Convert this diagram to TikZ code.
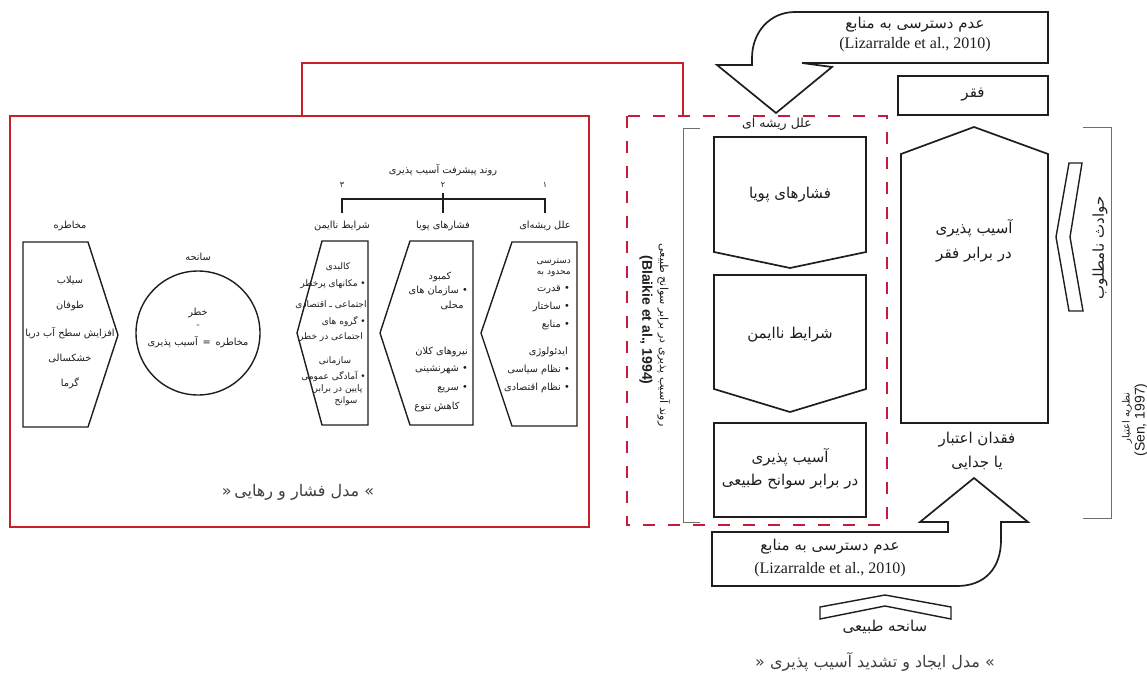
\documentclass[tikz,border=0pt]{standalone}
\usepackage{fontspec}
\setmainfont{Liberation Serif}
\newfontfamily\arabicfont[Script=Arabic]{DejaVu Sans}
\newfontfamily\latsans{Liberation Sans}
\TeXXeTstate=1
\newcommand{\fa}[1]{{\arabicfont\beginR #1\endR}}
\definecolor{redsolidc}{RGB}{200,32,40}
\definecolor{reddashc}{RGB}{196,28,62}
\definecolor{ink}{RGB}{30,30,30}
\definecolor{bracketc}{RGB}{110,110,110}
\tikzset{
 redbox/.style={draw=redsolidc, line width=2.6pt},
 redframe/.style={draw=reddashc, line width=2.6pt, dash pattern=on 12pt off 13pt},
 lshape/.style={draw=ink, line width=1.4pt, line join=miter},
 rshape/.style={draw=ink, line width=1.7pt, line join=miter},
 brk/.style={draw=bracketc, line width=1pt},
 sm/.style={font=\fontsize{9.8}{11}\selectfont, text=ink, inner sep=0pt},
 smr/.style={sm, anchor=east},
 tiny3/.style={font=\fontsize{9}{10}\selectfont, text=ink, inner sep=0pt},
 tiny3r/.style={tiny3, anchor=east},
 md/.style={font=\fontsize{15}{17}\selectfont, text=ink, inner sep=0pt},
 lat/.style={font=\fontsize{16}{18}\selectfont, text=ink, inner sep=0pt},
 ttl/.style={font=\fontsize{16}{18}\selectfont, text=ink!85, inner sep=0pt},
}
\begin{document}
\begin{tikzpicture}[x=1pt,y=-1pt]
\useasboundingbox (0,0) rectangle (1147,674);
\fill[white] (0,0) rectangle (1147,674);

% ================= left: pressure and release model =================
\draw[redbox] (10,116) rectangle (589,527);
\coordinate (redA) at (302,116);
\coordinate (redB) at (683,116);
\draw[redbox] (redA) -- (302,63) -- (683,63) -- (redB);

% hazard
\draw[lshape] (23,242) -- (88,242) -- (118,335) -- (88,427) -- (23,427) -- cycle;
\node[sm] (hzT) at (70,226) {\fa{مخاطره}};
\foreach \yy/\ww [count=\i] in {281/سیلاب,306/طوفان,333/افزایش سطح آب دریا,358/خشکسالی,383/گرما}
  \node[sm] (hz\i) at (70,\yy) {\fa{\ww}};

% disaster circle
\node[sm] (dsT) at (198,257) {\fa{سانحه}};
\node[draw=ink, line width=1.4pt, circle, minimum size=124pt, inner sep=0pt] (circ) at (198,333) {};
\node[sm] (rk1) at (198,313) {\fa{خطر}};
\node[sm, font=\fontsize{6}{6}\selectfont] (rk2) at (198,326) {=};
\node[sm] (rk3) at (198,342) {\fa{مخاطره \,=\, آسیب پذیری}};

% progression bracket
\node[sm] (prg) at (443,170) {\fa{روند پیشرفت آسیب پذیری}};
\node[sm, font=\fontsize{8}{9}\selectfont] (n3) at (342,185) {\fa{۳}};
\node[sm, font=\fontsize{8}{9}\selectfont] (n2) at (443,185) {\fa{۲}};
\node[sm, font=\fontsize{8}{9}\selectfont] (n1) at (545,185) {\fa{۱}};
\coordinate (b3) at (342,213); \coordinate (b2) at (443,213); \coordinate (b1) at (545,213);
\draw[lshape, line width=1.2pt] (b3) -- (342,199) -- (545,199) -- (b1);
\draw[lshape, line width=1.2pt] (443,193) -- (b2);
\node[sm] (lb3) at (342,226) {\fa{شرایط ناایمن}};
\node[sm] (lb2) at (443,226) {\fa{فشارهای پویا}};
\node[sm] (lb1) at (545,226) {\fa{علل ریشه‌ای}};

% shape 3 : unsafe conditions
\draw[lshape] (322,241) -- (368,241) -- (368,425) -- (322,425) -- (297,333) -- cycle;
\node[tiny3] (u1) at (338,267) {\fa{کالبدی}};
\node[tiny3r] (u2) at (366,284) {\fa{• مکانهای پرخطر}};
\node[tiny3] (u3) at (331,305) {\fa{اجتماعی ـ اقتصادی}};
\node[tiny3r] (u4) at (366,322) {\fa{• گروه های}};
\node[tiny3] (u5) at (331,337) {\fa{اجتماعی در خطر}};
\node[tiny3] (u6) at (335,361) {\fa{سازمانی}};
\node[tiny3r] (u7) at (366,376) {\fa{• آمادگی عمومی}};
\node[tiny3] (u8) at (338,389) {\fa{پایین در برابر}};
\node[tiny3] (u9) at (346,401) {\fa{سوانح}};

% shape 2 : dynamic pressures
\draw[lshape] (410,241) -- (473,241) -- (473,425) -- (410,425) -- (380,333) -- cycle;
\node[sm] (p1) at (440,277) {\fa{کمبود}};
\node[smr] (p2) at (468,291) {\fa{• سازمان های}};
\node[sm] (p3) at (452,305) {\fa{محلی}};
\node[smr] (p4) at (468,352) {\fa{نیروهای کلان}};
\node[smr] (p5) at (468,370) {\fa{• شهرنشینی}};
\node[smr] (p6) at (468,389) {\fa{• سریع}};
\node[sm] (p7) at (437,407) {\fa{کاهش تنوع}};

% shape 1 : root causes
\draw[lshape] (512,242) -- (577,242) -- (577,426) -- (512,426) -- (481,333) -- cycle;
\node[tiny3r] (c1) at (571,262) {\fa{دسترسی}};
\node[tiny3r] (c2) at (571,274) {\fa{محدود به}};
\node[smr] (c3) at (570,290) {\fa{• قدرت}};
\node[smr] (c4) at (570,307) {\fa{• ساختار}};
\node[smr] (c5) at (570,325) {\fa{• منابع}};
\node[smr] (c6) at (568,352) {\fa{ایدئولوژی}};
\node[smr] (c7) at (570,370) {\fa{• نظام سیاسی}};
\node[smr] (c8) at (570,388) {\fa{• نظام اقتصادی}};

\node[ttl] (ttlL) at (298,492) {\fa{» مدل فشار و رهایی\,«}};

% ================= right: creation and intensification model =================
\draw[redframe] (627,116) rectangle (887,525);
\draw[brk] (700,128) -- (683,128) -- (683,522) -- (700,522);
\node[font=\fontsize{11}{13}\selectfont, text=ink, inner sep=0pt, rotate=-90] (blk1) at (664,335) {\fa{روند آسیب پذیری در برابر سوانح طبیعی}};
\node[font=\fontsize{14}{16}\selectfont\latsans\bfseries, text=ink, inner sep=0pt, rotate=-90] (blk2) at (646,320) {(Blaikie et al., 1994)};

% top curved arrow
\draw[rshape] (1048,12) -- (795,12) .. controls (770,12) and (752,32) .. (752,58) -- (752,65) -- (717,65) -- (776,113) -- (832,67) -- (802,63) -- (1048,63) -- cycle;
\node[md] (tA1) at (915,25) {\fa{عدم دسترسی به منابع}};
\node[lat] (tA2) at (915,45) {(Lizarralde et al., 2010)};

% poverty box
\draw[rshape] (898,76) rectangle (1048,115);
\node[md] (fq) at (973,95) {\fa{فقر}};

\node[md, font=\fontsize{12.5}{14}\selectfont] (rc) at (777,124) {\fa{علل ریشه ای}};

% pressure column
\draw[rshape] (714,137) -- (866,137) -- (866,252) -- (790,268) -- (714,252) -- cycle;
\node[md] (k1) at (790,195) {\fa{فشارهای پویا}};
\draw[rshape] (714,275) -- (866,275) -- (866,389) -- (790,412) -- (714,389) -- cycle;
\node[md] (k2) at (790,335) {\fa{شرایط ناایمن}};
\draw[rshape] (714,423) rectangle (866,517);
\node[md] (k3a) at (790,457) {\fa{آسیب پذیری}};
\node[md] (k3b) at (790,482) {\fa{در برابر سوانح طبیعی}};

% poverty vulnerability pentagon
\draw[rshape] (901,154) -- (974,127) -- (1048,154) -- (1048,423) -- (901,423) -- cycle;
\node[md] (v1) at (974,228) {\fa{آسیب پذیری}};
\node[md] (v2) at (974,255) {\fa{در برابر فقر}};
\node[md] (lc1) at (977,440) {\fa{فقدان اعتبار}};
\node[md] (lc2) at (977,463) {\fa{یا جدایی}};

% adverse events chevron
\draw[rshape, line width=1.4pt] (1069,163) -- (1082,163) -- (1070,237) -- (1083,311) -- (1069,311) -- (1056,237) -- cycle;
\node[md, rotate=90] (ev) at (1100,248) {\fa{حوادث نامطلوب}};

% credit theory bracket
\draw[brk] (1083,127) -- (1111,127) -- (1111,518) -- (1083,518);
\node[font=\fontsize{10}{12}\selectfont, text=ink, inner sep=0pt, rotate=90] (sn1) at (1127,418) {\fa{نظریه اعتبار}};
\node[font=\fontsize{14}{16}\selectfont\latsans, text=ink, inner sep=0pt, rotate=90] (sn2) at (1141,420) {(Sen, 1997)};

% bottom curved arrow
\draw[rshape] (712,532) -- (948,532) -- (948,522) -- (920,522) -- (974,478) -- (1028,522) -- (1001,522) -- (1001,540) .. controls (1001,568) and (985,586) .. (957,586) -- (712,586) -- cycle;
\node[md] (bA1) at (830,547) {\fa{عدم دسترسی به منابع}};
\node[lat] (bA2) at (830,570) {(Lizarralde et al., 2010)};

% natural disaster chevron
\draw[rshape, line width=1.4pt] (820,607) -- (885,595) -- (951,607) -- (951,619) -- (885,606) -- (820,619) -- cycle;
\node[md] (nd) at (885,627) {\fa{سانحه طبیعی}};

\node[ttl] (ttlR) at (875,662) {\fa{» مدل ایجاد و تشدید آسیب پذیری «}};
\end{tikzpicture}
\end{document}
